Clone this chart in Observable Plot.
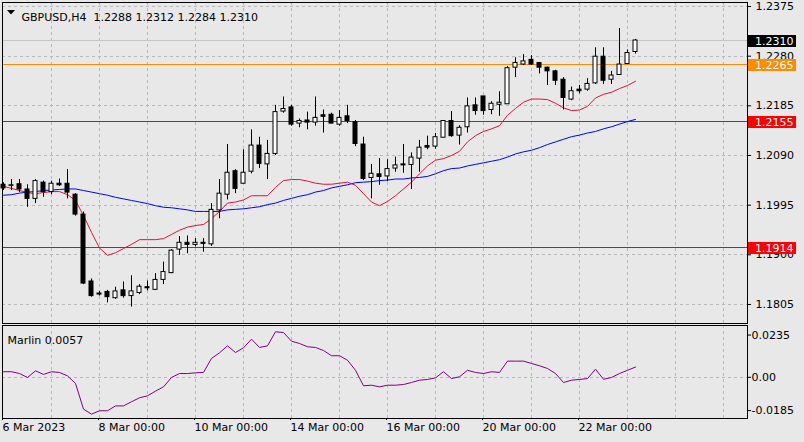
<!DOCTYPE html>
<html><head><meta charset="utf-8">
<script src="https://cdn.jsdelivr.net/npm/d3@7"></script>
<script src="https://cdn.jsdelivr.net/npm/@observablehq/plot@0.6"></script>
<style>
html,body{margin:0;padding:0;background:#e8e8e8;}
#wrap{position:relative;width:804px;height:442px;overflow:hidden;background:#e8e8e8;}
#wrap svg{position:absolute;left:0;}
svg text{white-space:pre;}
</style></head><body><div id="wrap"></div>
<script>
const symbolName = "GBPUSD,H4";
const lastOHLC = [1.2288, 1.2312, 1.2284, 1.2310];
const open = [1.2034,1.2032,1.2035,1.2025,1.2007,1.2038,1.2020,1.2036,1.2036,1.2015,
1.1977,1.1849,1.1826,1.1829,1.1817,1.1832,1.1821,1.1827,1.1838,1.1833,
1.1852,1.1865,1.1910,1.1923,1.1919,1.1923,1.1920,1.1985,1.2015,1.2060,
1.2036,1.2059,1.2109,1.2073,1.2093,1.2174,1.2182,1.2151,1.2157,1.2153,
1.2167,1.2168,1.2149,1.2165,1.2154,1.2111,1.2047,1.2054,1.2050,1.2065,
1.2073,1.2072,1.2084,1.2108,1.2107,1.2124,1.2156,1.2128,1.2144,1.2186,
1.2203,1.2177,1.2187,1.2188,1.2258,1.2264,1.2273,1.2267,1.2258,1.2251,
1.2235,1.2197,1.2216,1.2216,1.2228,1.2279,1.2235,1.2244,1.2265,1.2288];
const high = [1.2038,1.2044,1.2044,1.2034,1.2044,1.2041,1.2041,1.2045,1.2063,1.2017,
1.1982,1.1854,1.1830,1.1832,1.1838,1.1848,1.1860,1.1843,1.1850,1.1864,
1.1886,1.1910,1.1935,1.1936,1.1931,1.1931,1.1998,1.2044,1.2111,1.2063,
1.2101,1.2139,1.2125,1.2119,1.2186,1.2202,1.2186,1.2160,1.2173,1.2202,
1.2177,1.2171,1.2176,1.2186,1.2157,1.2125,1.2073,1.2084,1.2082,1.2087,
1.2111,1.2095,1.2119,1.2127,1.2132,1.2157,1.2174,1.2147,1.2200,1.2200,
1.2203,1.2193,1.2212,1.2260,1.2277,1.2283,1.2281,1.2268,1.2259,1.2253,
1.2239,1.2221,1.2224,1.2237,1.2296,1.2296,1.2251,1.2333,1.2292,1.2312];
const low = [1.2023,1.2023,1.2019,1.1991,1.1998,1.2010,1.2015,1.2031,1.2007,1.1974,
1.1843,1.1819,1.1821,1.1808,1.1815,1.1817,1.1800,1.1824,1.1831,1.1832,
1.1843,1.1864,1.1899,1.1902,1.1915,1.1905,1.1916,1.1969,1.2005,1.2017,
1.2035,1.2055,1.2065,1.2044,1.2090,1.2171,1.2146,1.2143,1.2139,1.2146,
1.2133,1.2151,1.2146,1.2151,1.2107,1.2042,1.2007,1.2033,1.2040,1.2058,
1.2056,1.2025,1.2058,1.2101,1.2102,1.2124,1.2125,1.2110,1.2133,1.2167,
1.2167,1.2168,1.2165,1.2188,1.2239,1.2262,1.2262,1.2246,1.2224,1.2224,
1.2177,1.2195,1.2208,1.2213,1.2226,1.2226,1.2226,1.2243,1.2264,1.2284];
const close = [1.2027,1.2033,1.2025,1.2007,1.2041,1.2020,1.2036,1.2033,1.2019,1.1977,
1.1845,1.1821,1.1824,1.1819,1.1830,1.1821,1.1830,1.1839,1.1836,1.1852,
1.1867,1.1908,1.1923,1.1919,1.1923,1.1921,1.1986,1.2017,1.2057,1.2026,
1.2057,1.2109,1.2074,1.2093,1.2173,1.2179,1.2149,1.2156,1.2153,1.2162,
1.2164,1.2151,1.2162,1.2156,1.2112,1.2045,1.2055,1.2049,1.2064,1.2071,
1.2071,1.2086,1.2105,1.2105,1.2125,1.2156,1.2127,1.2143,1.2184,1.2175,
1.2175,1.2189,1.2191,1.2257,1.2267,1.2270,1.2264,1.2258,1.2251,1.2233,
1.2200,1.2213,1.2213,1.2227,1.2279,1.2233,1.2243,1.2264,1.2286,1.2310];
const maFast = [1.2031,1.2027,1.2023,1.2019,1.2017,1.2019,1.2021,1.2021,1.2015,1.2004,
1.1975,1.1943,1.1913,1.1899,1.1904,1.1912,1.1920,1.1929,1.1929,1.1929,
1.1931,1.1939,1.1947,1.1953,1.1956,1.1958,1.1969,1.1983,1.1999,1.2001,
1.2005,1.2013,1.2013,1.2013,1.2029,1.2042,1.2044,1.2044,1.2041,1.2037,
1.2035,1.2035,1.2037,1.2039,1.2033,1.2017,1.2001,1.1994,1.2002,1.2013,
1.2026,1.2039,1.2055,1.2070,1.2081,1.2084,1.2090,1.2098,1.2116,1.2128,
1.2136,1.2141,1.2147,1.2167,1.2180,1.2192,1.2198,1.2198,1.2197,1.2190,
1.2181,1.2176,1.2177,1.2184,1.2200,1.2207,1.2211,1.2218,1.2224,1.2232];
const maSlow = [1.2014,1.2015,1.2018,1.2020,1.2021,1.2023,1.2024,1.2025,1.2026,1.2026,
1.2023,1.2020,1.2017,1.2014,1.2010,1.2007,1.2004,1.2001,1.1998,1.1994,
1.1991,1.1990,1.1988,1.1986,1.1983,1.1983,1.1983,1.1983,1.1986,1.1987,
1.1988,1.1990,1.1992,1.1996,1.1999,1.2004,1.2008,1.2012,1.2015,1.2020,
1.2023,1.2028,1.2031,1.2034,1.2038,1.2039,1.2040,1.2042,1.2043,1.2045,
1.2045,1.2047,1.2048,1.2050,1.2055,1.2061,1.2065,1.2066,1.2070,1.2073,
1.2076,1.2079,1.2082,1.2087,1.2093,1.2097,1.2100,1.2105,1.2111,1.2116,
1.2121,1.2126,1.2129,1.2133,1.2136,1.2141,1.2145,1.2150,1.2155,1.2159];
const marlin = [0.0031,0.0031,0.0021,-0.0001,0.0036,0.0016,0.0031,0.0027,0.0008,-0.0034,
-0.0177,-0.0205,-0.0186,-0.0186,-0.0159,-0.0159,-0.0136,-0.0114,-0.0103,-0.0077,
-0.0053,-0.0001,0.0021,0.0021,0.0025,0.0027,0.0105,0.0136,0.0175,0.0138,
0.0164,0.0212,0.0166,0.0175,0.0253,0.0249,0.0201,0.0188,0.0170,0.0166,
0.0149,0.0120,0.0120,0.0095,0.0039,-0.0047,-0.0044,-0.0053,-0.0044,-0.0044,
-0.0040,-0.0029,-0.0016,-0.0012,-0.0003,0.0031,-0.0007,0.0003,0.0039,0.0027,
0.0021,0.0031,0.0027,0.0090,0.0090,0.0090,0.0077,0.0064,0.0049,0.0021,
-0.0029,-0.0016,-0.0012,-0.0007,0.0045,-0.0011,-0.0001,0.0021,0.0039,0.0057];
const timeTicks = [0, 12, 24, 36, 48, 60, 72];
const timeLabels = ["6 Mar 2023", "8 Mar 00:00", "10 Mar 00:00", "14 Mar 00:00", "16 Mar 00:00", "20 Mar 00:00", "22 Mar 00:00"];
const dayTicks = [6,12,18,24,30,36,42,48,54,60,66,72,78,84,90];
const priceTicks = [1.1805, 1.1900, 1.1995, 1.2090, 1.2185, 1.2280, 1.2375];
const levels = [1.2265, 1.2155, 1.1914];
const marlinTicks = [0.0235, 0, -0.0185];
const marlinTickLabels = ["0.0235", "0.00", "-0.0185"];

const candles = d3.range(open.length).map(i => ({i, o: open[i], h: high[i], l: low[i], c: close[i], fast: maFast[i], slow: maSlow[i], m: marlin[i]}));

const FONT = {fontFamily: "'DejaVu Sans', sans-serif", fontSize: "11px", background: "transparent", color: "#000", overflow: "visible"};
const grid = {stroke: "#b8b8b8", strokeDasharray: "3,3", strokeWidth: 1, strokeOpacity: 1, shapeRendering: "crispEdges"};
const f4 = d3.format(".4f");
const levelColors = ["#ff8c00", "#ff0000", "#ff0000"];
const boxDefs = [
  {v: lastOHLC[3], fill: "#000000"},
  {v: levels[0], fill: levelColors[0]},
  {v: levels[1], fill: levelColors[1]},
  {v: levels[2], fill: levelColors[2]}
];

function levelLines(index, scales, values, dim) {
  const g = d3.create("svg:g");
  const xa = dim.marginLeft, xb = dim.width - dim.marginRight;
  levels.forEach((v, k) => {
    const y = Math.round(scales.y(v)) + 0.5;
    g.append("line").attr("x1", xa).attr("x2", xb).attr("y1", y).attr("y2", y)
      .attr("stroke", levelColors[k]).attr("stroke-width", 1);
  });
  return g.node();
}

function overlay(index, scales, values, dim) {
  const g = d3.create("svg:g");
  const x0 = dim.width - dim.marginRight + 1;
  for (const b of boxDefs) {
    const y = scales.y(b.v);
    g.append("rect").attr("x", x0).attr("y", Math.round(y) - 5).attr("width", 48).attr("height", 12).attr("fill", b.fill);
    g.append("text").attr("x", x0 + 7).attr("y", Math.round(y) + 1).attr("dy", "0.35em").attr("fill", "#ffffff")
      .attr("text-anchor", "start")
      .attr("font-family", "'DejaVu Sans', sans-serif").attr("font-size", 11).text(f4(b.v));
  }
  g.append("path").attr("d", `M${dim.marginLeft + 5},${dim.marginTop + 8}h8l-4,4.5z`).attr("fill", "#000");
  return g.node();
}

const main = Plot.plot({
  width: 804, height: 324,
  marginLeft: 2, marginRight: 57, marginTop: 2, marginBottom: 1,
  x: {domain: [-0.125, 93], axis: null, label: null},
  y: {domain: [1.17686, 1.23827], axis: null, label: null},
  style: FONT,
  marks: [
    Plot.ruleX(dayTicks, grid),
    Plot.ruleY(priceTicks, grid),
    Plot.ruleY([lastOHLC[3]], {stroke: "#c4c4c4", shapeRendering: "crispEdges"}),
    levelLines,
    Plot.line(candles, {x: "i", y: "slow", stroke: "#0000ff", strokeWidth: 1}),
    Plot.line(candles, {x: "i", y: "fast", stroke: "#dc143c", strokeWidth: 1}),
    Plot.ruleX(candles, {x: "i", y1: "l", y2: "h", stroke: "#000", strokeWidth: 1}),
    Plot.rect(candles, {x1: d => d.i - 0.25, x2: d => d.i + 0.25, y1: "o", y2: "c",
      fill: d => d.c >= d.o ? "#ffffff" : "#000000", stroke: "#000", strokeWidth: 1}),
    Plot.frame({stroke: "#000"}),
    Plot.axisY(priceTicks, {anchor: "right", tickSize: 3, tickPadding: 5, tickFormat: f4, label: null}),
    overlay,
    Plot.text([`${symbolName}  ${lastOHLC.map(f4).join(" ")}`], {frameAnchor: "top-left", dx: 19, dy: 10.5, textAnchor: "start"})
  ]
});

const ind = Plot.plot({
  width: 804, height: 118,
  marginLeft: 2, marginRight: 57, marginTop: 1, marginBottom: 24,
  x: {domain: [-0.125, 93], axis: null, label: null},
  y: {domain: [-0.02291, 0.02881], axis: null, label: null},
  style: FONT,
  marks: [
    Plot.ruleX(dayTicks, grid),
    Plot.ruleY([0], grid),
    Plot.line(candles, {x: "i", y: "m", stroke: "#800080", strokeWidth: 1}),
    Plot.frame({stroke: "#000"}),
    Plot.axisY(marlinTicks, {anchor: "right", tickSize: 3, tickPadding: 1, tickFormat: d => marlinTickLabels[marlinTicks.indexOf(d)], label: null}),
    Plot.axisX(timeTicks, {anchor: "bottom", tickSize: 2, tickPadding: 3, tickFormat: d => timeLabels[timeTicks.indexOf(d)], textAnchor: "start", dx: -1, label: null}),
    Plot.text([`Marlin ${f4(marlin[marlin.length - 1])}`], {frameAnchor: "top-left", dx: 5, dy: 11, textAnchor: "start"})
  ]
});

main.style.top = "0px";
ind.style.top = "324px";
const wrap = document.getElementById("wrap");
wrap.appendChild(main);
wrap.appendChild(ind);
</script>
</body></html>
